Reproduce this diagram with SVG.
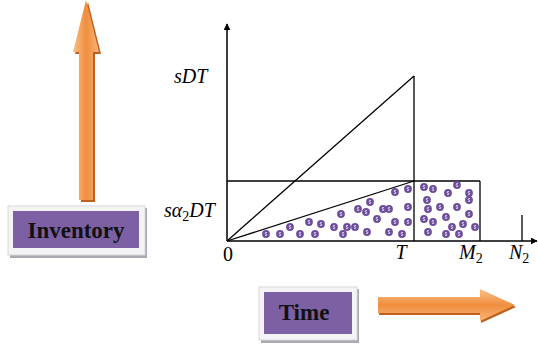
<svg xmlns="http://www.w3.org/2000/svg" width="538" height="347" viewBox="0 0 538 347">
<defs>
<style>
.ln{stroke:#000;stroke-width:1.3;fill:none}
.ax{stroke:#000;stroke-width:1.5;fill:none}
.lbl{font-family:"Liberation Serif",serif;font-style:italic;font-size:20px;fill:#000}
.up{font-style:normal}
.sub{font-style:normal;font-size:14px}
.box-frame{fill:#f4f4f6;stroke:#d8d8dc;stroke-width:1}
.box-shadow{fill:#a9a9b3}
.box{fill:#7d5fa3}
.btxt{font-family:"Liberation Serif",serif;font-weight:bold;font-size:23px;fill:#111;text-anchor:middle}
.dot-s{stroke:#fff;stroke-width:0.7;fill:none}
</style>
<linearGradient id="gv" x1="0" y1="0" x2="1" y2="0">
<stop offset="0" stop-color="#f9c18c"/>
<stop offset="0.5" stop-color="#f08e3e"/>
<stop offset="1" stop-color="#f7b47a"/>
</linearGradient>
<linearGradient id="gh" x1="0" y1="0" x2="0" y2="1">
<stop offset="0" stop-color="#f9c18c"/>
<stop offset="0.5" stop-color="#f08e3e"/>
<stop offset="1" stop-color="#f7b47a"/>
</linearGradient>
<g id="dot">
<circle r="3.9" fill="#6d4e9c"/>
<path class="dot-s" d="M1,-1.4 Q-0.2,-2 -1,-1 Q-1,0 0,0 Q1,0.2 1,1 Q0.2,2 -1,1.4"/>
</g>
<marker id="ah" viewBox="0 0 10 10" refX="9" refY="5" markerWidth="7" markerHeight="7" markerUnits="userSpaceOnUse" orient="auto">
<path d="M0,0 L10,5 L0,10 Z" fill="#000"/>
</marker>
</defs>

<g id="inventory-arrow">
<path d="M81,54 L75,54 L88,2 L101,54 L95,54 L95,202 L81,202 Z" fill="#c0601c"/>
<path d="M79,52 L73,52 L86,0 L99,52 L93,52 L93,200 L79,200 Z" fill="url(#gv)"/>
</g>

<g id="inventory-label">
<rect class="box-shadow" x="10" y="208" width="137" height="50"/>
<rect class="box-frame" x="8" y="206" width="137" height="49"/>
<rect class="box" x="13" y="211" width="126" height="37"/>
<text class="btxt" x="76" y="238">Inventory</text>
</g>

<g id="time-label">
<rect class="box-shadow" x="261" y="289" width="98" height="54"/>
<rect class="box-frame" x="259" y="287" width="98" height="53"/>
<rect class="box" x="264" y="292" width="88" height="42"/>
<text class="btxt" x="304" y="320">Time</text>
</g>

<g id="time-arrow">
<path d="M379,299 L481,299 L481,291 L516,307 L481,323 L481,315 L379,315 Z" fill="#c0601c"/>
<path d="M378,297 L480,297 L480,289 L515,305 L480,321 L480,313 L378,313 Z" fill="url(#gh)"/>
</g>

<g id="axes">
<line class="ax" x1="227" y1="241" x2="227" y2="24" marker-end="url(#ah)"/>
<line class="ax" x1="227" y1="241" x2="537" y2="241" marker-end="url(#ah)"/>
</g>

<g id="connectors">
<line class="ln" x1="227" y1="241" x2="414" y2="76"/>
<line class="ln" x1="414" y1="76" x2="414" y2="241"/>
<line class="ln" x1="227" y1="181" x2="480" y2="181"/>
<line class="ln" x1="480" y1="181" x2="480" y2="241"/>
<line class="ln" x1="227" y1="241" x2="414" y2="181"/>
<line class="ln" x1="522" y1="215" x2="522" y2="241"/>
</g>

<g id="dots">
<use href="#dot" x="266" y="234"/><use href="#dot" x="280" y="234"/><use href="#dot" x="290" y="227"/>
<use href="#dot" x="300" y="234"/><use href="#dot" x="309" y="222"/><use href="#dot" x="315" y="234"/>
<use href="#dot" x="321" y="224"/><use href="#dot" x="334" y="227"/><use href="#dot" x="341" y="214"/>
<use href="#dot" x="343" y="234"/><use href="#dot" x="347" y="227"/><use href="#dot" x="355" y="227"/>
<use href="#dot" x="358" y="209"/><use href="#dot" x="366" y="212"/><use href="#dot" x="367" y="232"/>
<use href="#dot" x="370" y="202"/><use href="#dot" x="377" y="219"/><use href="#dot" x="383" y="209"/>
<use href="#dot" x="389" y="209"/><use href="#dot" x="389" y="232"/><use href="#dot" x="395" y="222"/>
<use href="#dot" x="395" y="192"/><use href="#dot" x="402" y="234"/><use href="#dot" x="408" y="189"/>
<use href="#dot" x="408" y="207"/><use href="#dot" x="408" y="222"/>
<use href="#dot" x="424" y="187"/><use href="#dot" x="433" y="189"/><use href="#dot" x="448" y="193"/>
<use href="#dot" x="457" y="185"/><use href="#dot" x="469" y="193"/><use href="#dot" x="469" y="200"/>
<use href="#dot" x="427" y="200"/><use href="#dot" x="428" y="209"/><use href="#dot" x="440" y="207"/>
<use href="#dot" x="457" y="207"/><use href="#dot" x="424" y="219"/><use href="#dot" x="433" y="222"/>
<use href="#dot" x="446" y="217"/><use href="#dot" x="469" y="214"/><use href="#dot" x="428" y="232"/>
<use href="#dot" x="446" y="234"/><use href="#dot" x="452" y="227"/><use href="#dot" x="459" y="234"/>
<use href="#dot" x="463" y="224"/><use href="#dot" x="475" y="227"/>
</g>

<g id="labels">
<text class="lbl" x="174" y="83">sDT</text>
<text class="lbl" x="164" y="217">sα<tspan class="sub" dy="4">2</tspan><tspan dy="-4">DT</tspan></text>
<text class="lbl up" x="228" y="261" text-anchor="middle">0</text>
<text class="lbl" x="401" y="259" text-anchor="middle">T</text>
<text class="lbl" x="459" y="259">M<tspan class="sub" dy="4">2</tspan></text>
<text class="lbl" x="509" y="259">N<tspan class="sub" dy="4">2</tspan></text>
</g>
</svg>
